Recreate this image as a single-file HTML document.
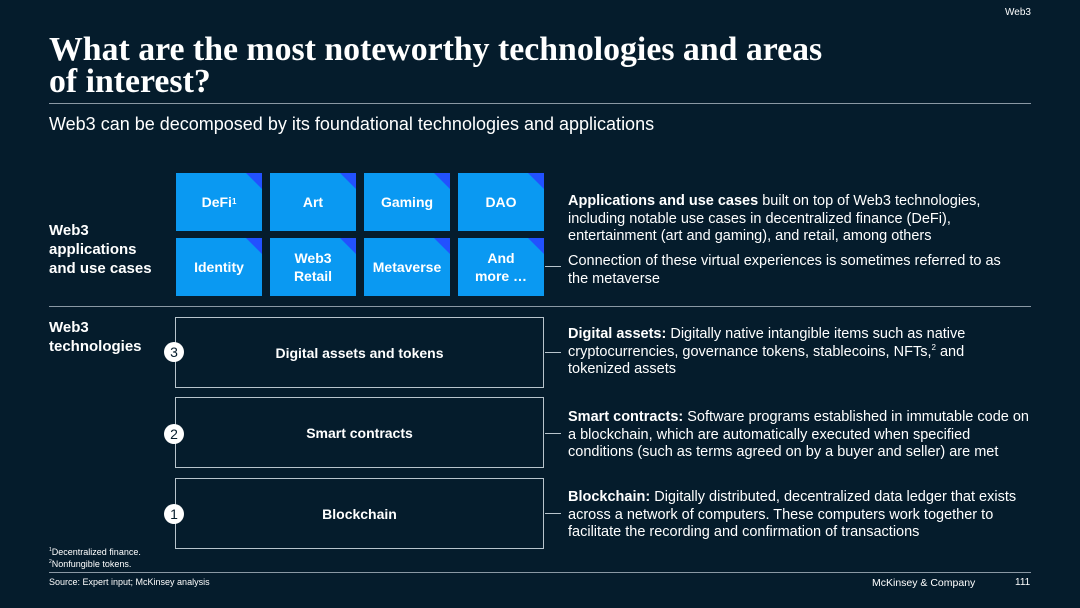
<!DOCTYPE html>
<html><head><meta charset="utf-8"><style>
*{margin:0;padding:0;box-sizing:border-box}
body{width:1080px;height:608px;background:#051c2c;position:relative;overflow:hidden;font-family:"Liberation Sans",Arial,sans-serif;color:#fff}
.a{position:absolute}
sup{line-height:0;vertical-align:super}
.t{position:absolute;width:86px;height:58px;background:#0a99f2;display:flex;align-items:center;justify-content:center;text-align:center;font-weight:bold;font-size:14px;line-height:18px;overflow:hidden}
.t::after{content:"";position:absolute;right:0;top:0;border-top:16px solid #2251ff;border-left:16px solid transparent}
.b{position:absolute;left:175px;width:369px;height:71px;border:1.5px solid #b8c4cc;display:flex;align-items:center;justify-content:center;font-weight:bold;font-size:14px}
.c{position:absolute;left:164px;width:20px;height:20px;border-radius:50%;background:#fff;color:#051c2c;font-size:14px;text-align:center;line-height:20px}
.d{position:absolute;left:568px;font-size:14.5px;line-height:17.5px;width:450px}
.l{position:absolute;left:545px;width:16px;height:1px;background:#b8c4cc}
</style></head><body>
<div class="a" style="right:49px;top:7px;font-size:10px">Web3</div>
<div class="a" style="left:49px;top:34px;font-family:'Liberation Serif',serif;font-weight:bold;font-size:33.8px;line-height:32px;white-space:nowrap">What are the most noteworthy technologies and areas<br>of interest?</div>
<div class="a" style="left:49px;top:103px;width:982px;height:1px;background:#8a98a4"></div>
<div class="a" style="left:49px;top:114px;font-size:18px">Web3 can be decomposed by its foundational technologies and applications</div>
<div class="a" style="left:49px;top:221px;font-weight:bold;font-size:15px;line-height:19px">Web3<br>applications<br>and use cases</div>
<div class="t" style="left:176px;top:173px">DeFi<sup style="font-size:8px">1</sup></div>
<div class="t" style="left:270px;top:173px">Art</div>
<div class="t" style="left:364px;top:173px">Gaming</div>
<div class="t" style="left:458px;top:173px">DAO</div>
<div class="t" style="left:176px;top:238px">Identity</div>
<div class="t" style="left:270px;top:238px">Web3<br>Retail</div>
<div class="t" style="left:364px;top:238px">Metaverse</div>
<div class="t" style="left:458px;top:238px">And<br>more …</div>
<div class="l" style="top:266px"></div>
<div class="d" style="top:193px"><b>Applications and use cases</b> built on top of Web3 technologies, including notable use cases in decentralized finance (DeFi), entertainment (art and gaming), and retail, among others</div>
<div class="d" style="top:253px">Connection of these virtual experiences is sometimes referred to as the metaverse</div>
<div class="a" style="left:49px;top:306px;width:982px;height:1px;background:#8a98a4"></div>
<div class="a" style="left:49px;top:318px;font-weight:bold;font-size:15px;line-height:19px">Web3<br>technologies</div>
<div class="b" style="top:317px">Digital assets and tokens</div>
<div class="b" style="top:397px">Smart contracts</div>
<div class="b" style="top:478px">Blockchain</div>
<div class="c" style="top:342px">3</div>
<div class="c" style="top:424px">2</div>
<div class="c" style="top:504px">1</div>
<div class="l" style="top:352px"></div>
<div class="l" style="top:433px"></div>
<div class="l" style="top:513px"></div>
<div class="d" style="top:326px"><b>Digital assets:</b> Digitally native intangible items such as native cryptocurrencies, governance tokens, stablecoins, NFTs,<sup style="font-size:8px">2</sup> and tokenized assets</div>
<div class="d" style="top:409px;width:470px"><b>Smart contracts:</b> Software programs established in immutable code on a blockchain, which are automatically executed when specified conditions (such as terms agreed on by a buyer and seller) are met</div>
<div class="d" style="top:489px"><b>Blockchain:</b> Digitally distributed, decentralized data ledger that exists across a network of computers. These computers work together to facilitate the recording and confirmation of transactions</div>
<div class="a" style="left:49px;top:546px;font-size:9px;line-height:12px"><sup style="font-size:5px">1</sup>Decentralized finance.<br><sup style="font-size:5px">2</sup>Nonfungible tokens.</div>
<div class="a" style="left:49px;top:572px;width:982px;height:1px;background:#8a98a4"></div>
<div class="a" style="left:49px;top:577px;font-size:9px">Source: Expert input; McKinsey analysis</div>
<div class="a" style="left:872px;top:577px;font-size:10.5px">McKinsey &amp; Company</div>
<div class="a" style="left:1015px;top:577px;font-size:10px">111</div>
</body></html>
